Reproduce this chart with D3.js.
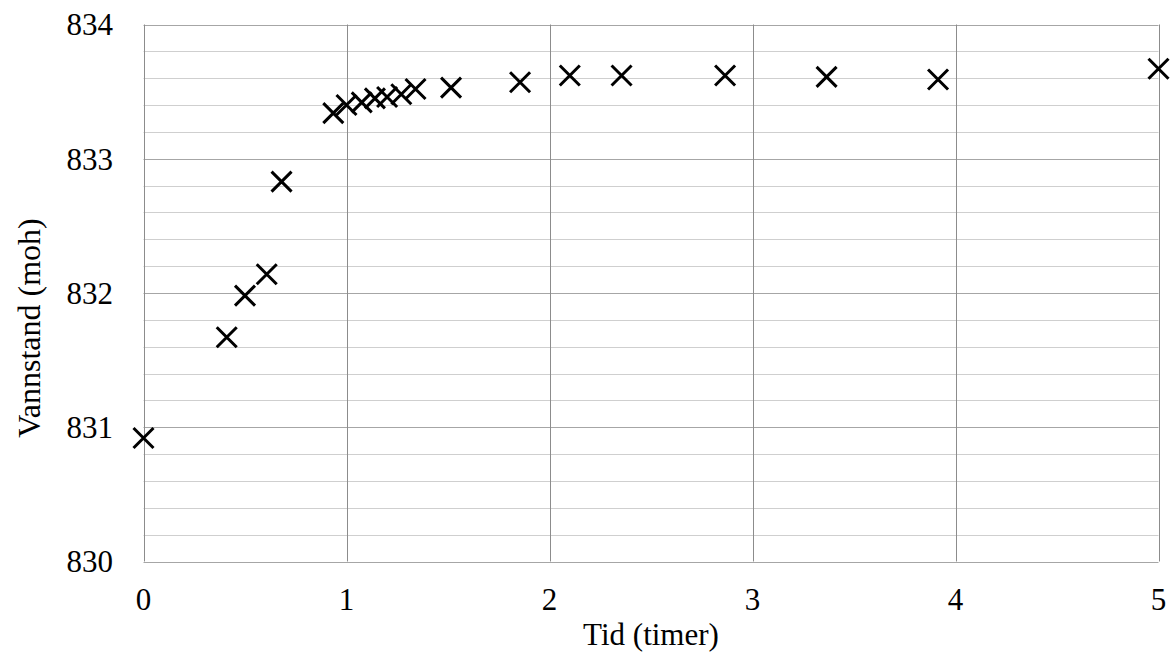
<!DOCTYPE html>
<html>
<head>
<meta charset="utf-8">
<script src="https://cdn.jsdelivr.net/npm/d3@7"></script>
<style>
  body { margin: 0; background: #fff; }
  svg text { font-family: "Liberation Serif", "DejaVu Serif", serif; fill: #000; }
</style>
</head>
<body>
<div id="chart"></div>
<script>
// time in hours
const tid = [0, 0.41, 0.50, 0.607, 0.68, 0.935, 1.0, 1.075, 1.14, 1.20, 1.27, 1.34,
    1.515, 1.855, 2.10, 2.355, 2.865, 3.365, 3.914, 5.0];
// water level (moh)
const vannstand = [830.92, 831.67, 831.98, 832.14, 832.83, 833.34, 833.40, 833.42, 833.45, 833.46, 833.48, 833.52,
    833.53, 833.57, 833.62, 833.62, 833.62, 833.61, 833.59, 833.67];
const xTicks = [0, 1, 2, 3, 4, 5];
const yTicks = [830, 831, 832, 833, 834];

const data = tid.map((t, i) => ({ t: t, v: vannstand[i] }));

const width = 1174;
const height = 653;
const marginTop = 24.5;
const marginRight = 15.5;
const marginBottom = 91.5;
const marginLeft = 143.5;

const svg = d3.select("#chart")
    .append("svg")
    .attr("width", width)
    .attr("height", height);

const x = d3.scaleLinear()
    .domain([0, 5])
    .range([marginLeft, width - marginRight]);

const y = d3.scaleLinear()
    .domain([830, 834])
    .range([height - marginBottom, marginTop]);

// minor horizontal grid every 0.2
const minor = d3.range(830, 834.001, 0.2).filter(d => Math.abs(d - Math.round(d)) > 0.01);
svg.append("g")
    .selectAll("line")
    .data(minor)
    .join("line")
    .attr("x1", x(0)).attr("x2", x(5))
    .attr("y1", d => Math.round(y(d)) + 0.5)
    .attr("y2", d => Math.round(y(d)) + 0.5)
    .attr("stroke", "#cfcfcf");

svg.append("g")
    .selectAll("line")
    .data(yTicks)
    .join("line")
    .attr("x1", x(0)).attr("x2", x(5))
    .attr("y1", d => Math.round(y(d)) + 0.5)
    .attr("y2", d => Math.round(y(d)) + 0.5)
    .attr("stroke", "#a6a6a6");

svg.append("g")
    .selectAll("line")
    .data(xTicks)
    .join("line")
    .attr("x1", d => Math.round(x(d)) + 0.5)
    .attr("x2", d => Math.round(x(d)) + 0.5)
    .attr("y1", y(834)).attr("y2", y(830))
    .attr("stroke", "#8c8c8c");

// tick labels
svg.append("g")
    .selectAll("text")
    .data(xTicks)
    .join("text")
    .attr("x", d => x(d))
    .attr("y", 610)
    .attr("text-anchor", "middle")
    .attr("font-size", 31)
    .text(d => d);

svg.append("g")
    .selectAll("text")
    .data(yTicks)
    .join("text")
    .attr("x", 113)
    .attr("y", d => y(d))
    .attr("dy", "0.35em")
    .attr("text-anchor", "end")
    .attr("font-size", 31)
    .text(d => d);

// points as crosses
const s = 10;
const pts = svg.append("g")
    .selectAll("g")
    .data(data)
    .join("g")
    .attr("transform", d => `translate(${x(d.t)},${y(d.v)})`);
pts.append("path")
    .attr("d", `M${-s},${-s}L${s},${s}M${-s},${s}L${s},${-s}`)
    .attr("stroke", "#000")
    .attr("stroke-width", 3)
    .attr("fill", "none");

// axis titles
svg.append("text")
    .attr("x", (marginLeft + width - marginRight) / 2)
    .attr("y", 645)
    .attr("text-anchor", "middle")
    .attr("font-size", 31)
    .text("Tid (timer)");

svg.append("text")
    .attr("transform", "translate(40,328) rotate(-90)")
    .attr("text-anchor", "middle")
    .attr("font-size", 32)
    .text("Vannstand (moh)");
</script>
</body>
</html>
